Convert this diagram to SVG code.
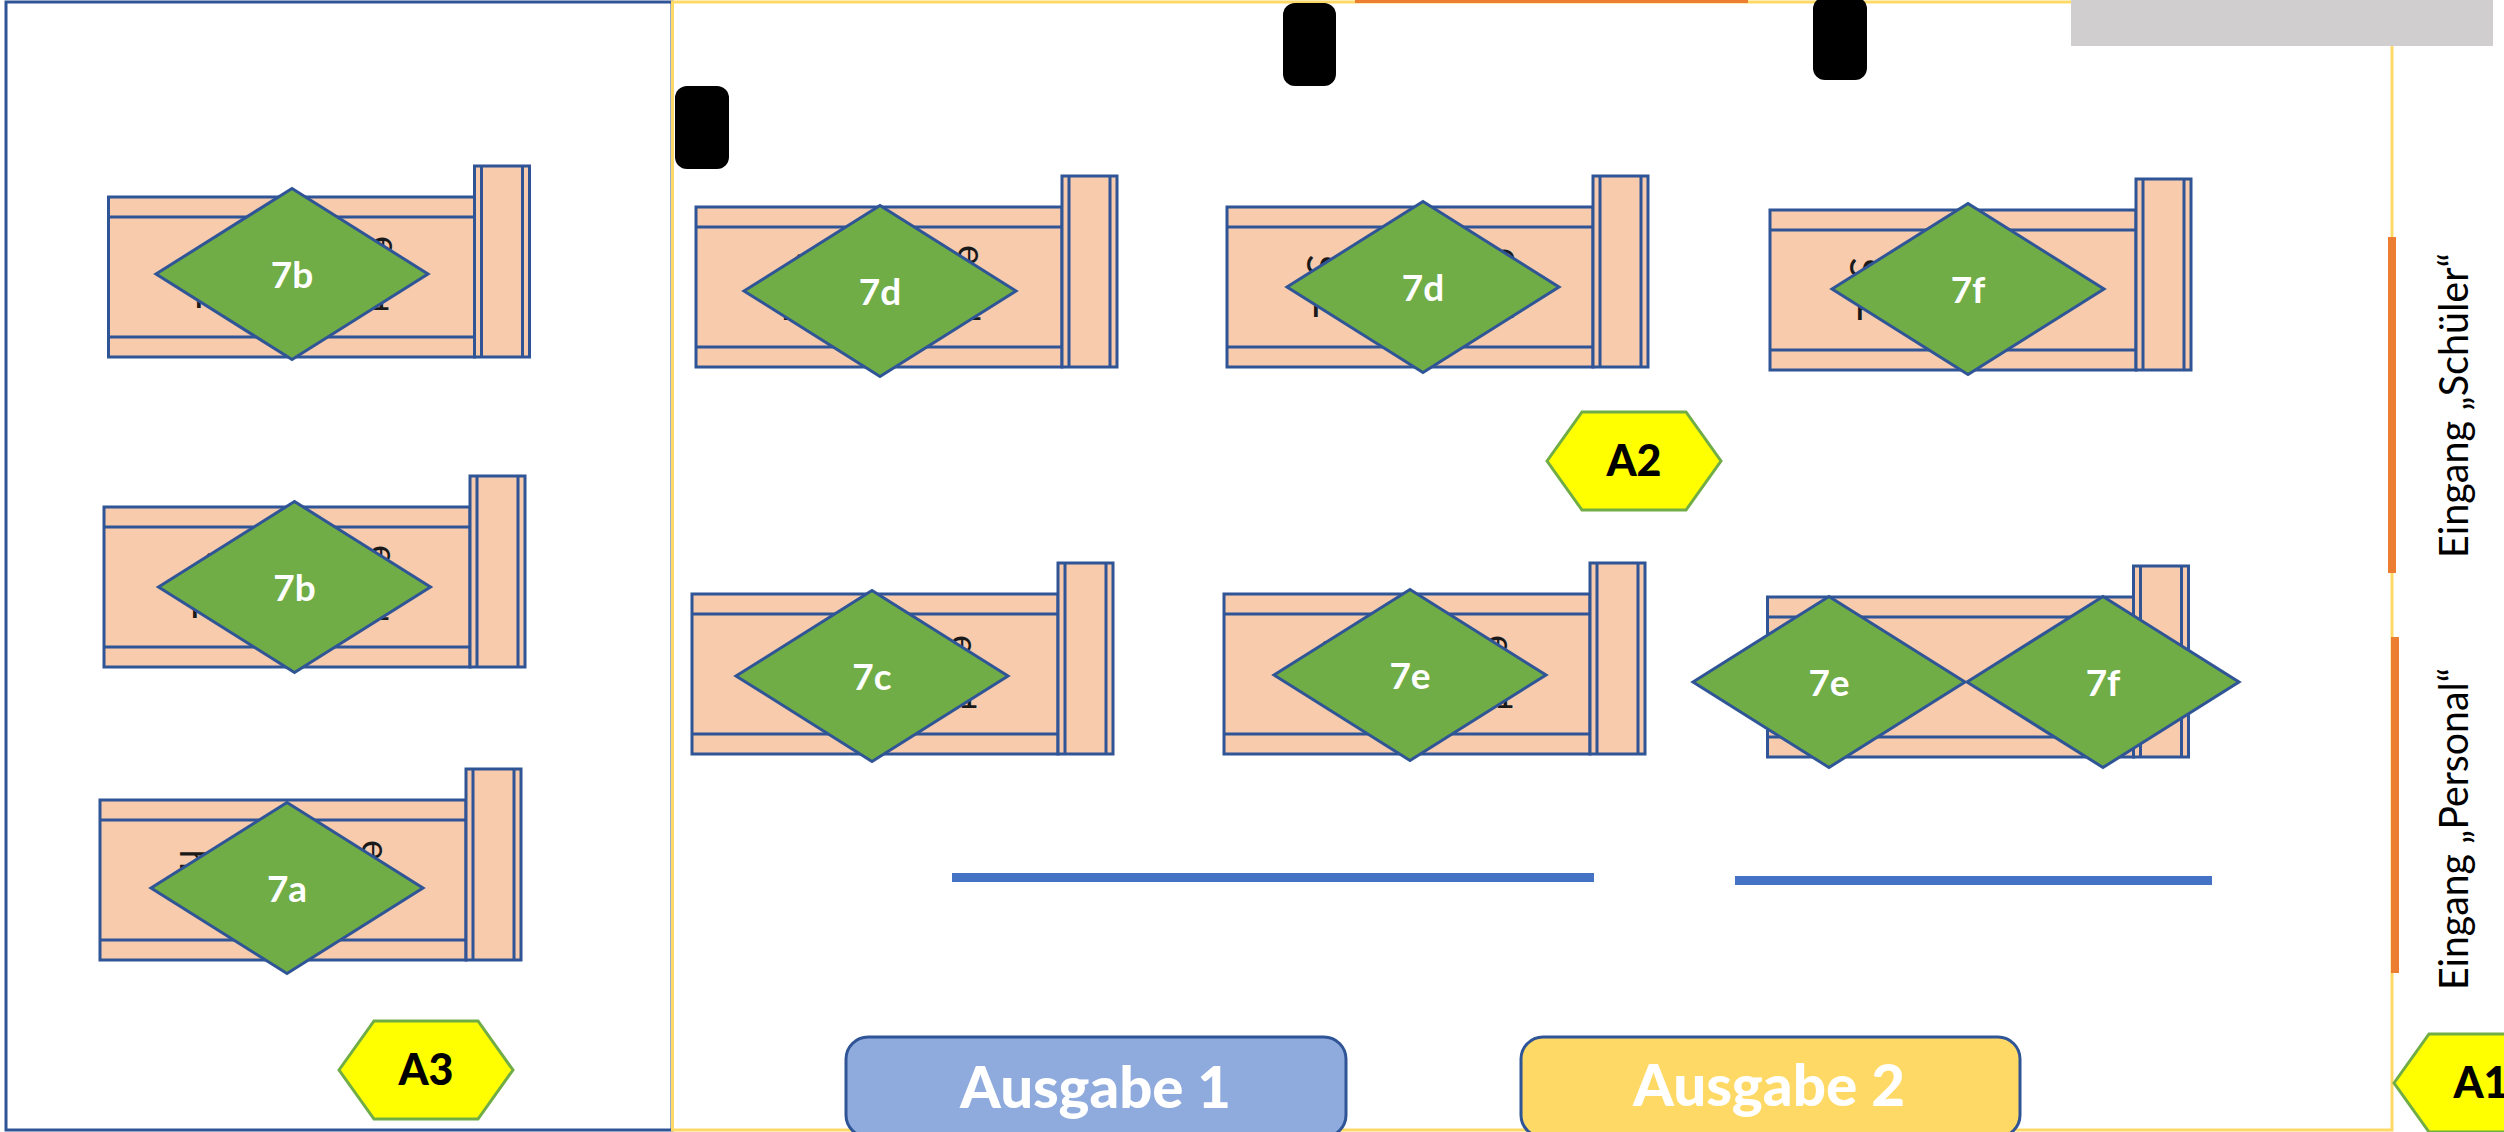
<svg xmlns="http://www.w3.org/2000/svg" width="2504" height="1132" viewBox="0 0 2504 1132">
<style>
text{font-family:Lato,"Open Sans","Liberation Sans",sans-serif}
.t{fill:#f8cbad;stroke:#2f5597;stroke-width:3}
.tl{fill:none;stroke:#2f5597;stroke-width:3}
.d{fill:#70ad47;stroke:#2f5597;stroke-width:3;stroke-linejoin:miter}
.dl{fill:#fff;font-weight:700;font-size:37px;text-anchor:middle}
.hex{fill:#ff0;stroke:#70ad47;stroke-width:3}
.hl{fill:#000;font-weight:900;font-size:43px;text-anchor:middle}
.frag{fill:#1a1a1a;font-size:38px;text-anchor:middle}
.btn{stroke:#2f5597;stroke-width:3}
.bl{fill:#fff;font-weight:900;font-size:58px}
.door{fill:#ed7d31}
.lab{fill:#000;font-size:40px}
.pil{fill:#000}
.ctr{fill:#4472c4}
</style>
<defs>
<g id="table">
<rect class="t" x="0" y="0" width="366" height="160"/>
<path class="tl" d="M0 20H366M0 140H366"/>
<rect class="t" x="366" y="-31" width="55" height="191"/>
<path class="tl" d="M373 -31V160M414 -31V160"/>
</g>
<polygon id="dia" class="d" points="-136,0 0,-85.5 136,0 0,85.5"/>
<polygon id="hexa" class="hex" points="-87,0 -52,-49 52,-49 87,0 52,49 -52,49"/>
</defs>
<rect width="2504" height="1132" fill="#fff"/>
<g id="rooms">
<rect x="6" y="2" width="666" height="1128" fill="none" stroke="#2f5597" stroke-width="3"/>
<rect x="672.500" y="2" width="1719.500" height="1128" fill="none" stroke="#ffd966" stroke-width="3"/>
<rect x="1355" y="0" width="393" height="3" fill="#ed7d31"/>
<rect x="2071" y="0" width="422" height="46" fill="#d0cece"/>
</g>
<g id="connectors">
<rect class="door" x="2388" y="237" width="8" height="336"/>
<rect class="door" x="2391" y="637" width="8" height="336"/>
<rect class="ctr" x="952" y="873" width="642" height="9"/>
<rect class="ctr" x="1735" y="876" width="477" height="9"/>
</g>
<g id="pillars">
<rect class="pil" x="675" y="86" width="54" height="83" rx="12"/>
<rect class="pil" x="1283" y="3" width="53" height="83" rx="12"/>
<rect class="pil" x="1813" y="-3" width="54" height="83" rx="12"/>
</g>
<g id="table-1"><use href="#table" x="108.500" y="197"/>
<text class="frag" transform="translate(372 246) rotate(90)">e</text><text class="frag" x="205" y="308">P</text><text class="frag" x="380" y="310">1</text></g>
<g id="table-2"><use href="#table" x="104" y="507"/>
<text class="frag" transform="translate(370 555) rotate(90)">e</text><text class="frag" transform="translate(205 562) rotate(90)">S</text><text class="frag" x="201" y="618">P</text><text class="frag" x="380" y="620">1</text></g>
<g id="table-3"><use href="#table" x="100" y="800"/>
<text class="frag" transform="translate(362 850) rotate(90)">e</text><text class="frag" transform="translate(180 860) rotate(90)">h</text></g>
<g id="table-4"><use href="#table" x="696" y="207"/>
<text class="frag" transform="translate(958 255) rotate(90)">e</text><text class="frag" transform="translate(795 263) rotate(90)">S</text><text class="frag" x="792" y="320">P</text><text class="frag" x="972" y="320">1</text></g>
<g id="table-5"><use href="#table" x="1227" y="207"/>
<text class="frag" transform="translate(1494 258) rotate(90)">e</text><text class="frag" transform="translate(1307 265) rotate(90)">S</text><text class="frag" x="1322" y="317">P</text><text class="frag" x="1505" y="318">1</text></g>
<g id="table-6"><use href="#table" x="1770" y="210"/>
<text class="frag" transform="translate(1850 268) rotate(90)">S</text><text class="frag" x="1866" y="320">P</text></g>
<g id="table-7"><use href="#table" x="692" y="594"/>
<text class="frag" transform="translate(951 645) rotate(90)">e</text><text class="frag" x="968" y="708">1</text></g>
<g id="table-8"><use href="#table" x="1224" y="594"/>
<text class="frag" transform="translate(1487 645) rotate(90)">e</text><text class="frag" transform="translate(1321 650) rotate(90)">S</text><text class="frag" x="1504" y="708">1</text></g>
<g id="table-9"><use href="#table" x="1767.500" y="597"/></g>
<g id="zone-7b-1" transform="translate(292 274)"><use href="#dia"/><text class="dl" y="14">7b</text></g>
<g id="zone-7b-2" transform="translate(294.500 587)"><use href="#dia"/><text class="dl" y="14">7b</text></g>
<g id="zone-7a" transform="translate(287 888)"><use href="#dia"/><text class="dl" y="14">7a</text></g>
<g id="zone-7d-1" transform="translate(880 291)"><use href="#dia"/><text class="dl" y="14">7d</text></g>
<g id="zone-7d-2" transform="translate(1423 287)"><use href="#dia"/><text class="dl" y="14">7d</text></g>
<g id="zone-7f-1" transform="translate(1968 289)"><use href="#dia"/><text class="dl" y="14">7f</text></g>
<g id="zone-7c" transform="translate(872 676)"><use href="#dia"/><text class="dl" y="14">7c</text></g>
<g id="zone-7e-1" transform="translate(1410 675)"><use href="#dia"/><text class="dl" y="14">7e</text></g>
<g id="zone-7e-2" transform="translate(1829 682)"><use href="#dia"/><text class="dl" y="14">7e</text></g>
<g id="zone-7f-2" transform="translate(2103 682)"><use href="#dia"/><text class="dl" y="14">7f</text></g>
<g id="hex-A1" transform="translate(2481 1083)"><use href="#hexa"/><text class="hl" y="15">A1</text></g>
<g id="hex-A2" transform="translate(1634 461)"><use href="#hexa"/><text class="hl" y="15">A2</text></g>
<g id="hex-A3" transform="translate(426 1070)"><use href="#hexa"/><text class="hl" y="15">A3</text></g>
<g id="ausgabe-1"><rect class="btn" x="846" y="1037" width="500" height="100" rx="22" fill="#8faadc"/><text class="bl" x="960" y="1108" textLength="271" lengthAdjust="spacingAndGlyphs">Ausgabe 1</text></g>
<g id="ausgabe-2"><rect class="btn" x="1521" y="1037" width="499" height="100" rx="22" fill="#ffd966"/><text class="bl" x="1633" y="1106" textLength="272" lengthAdjust="spacingAndGlyphs">Ausgabe 2</text></g>
<g id="labels">
<text class="lab" transform="translate(2468 558) rotate(-90)" textLength="305" lengthAdjust="spacingAndGlyphs">Eingang „Schüler“</text>
<text class="lab" transform="translate(2468 990) rotate(-90)" textLength="322" lengthAdjust="spacingAndGlyphs">Eingang „Personal“</text>
</g>
</svg>
